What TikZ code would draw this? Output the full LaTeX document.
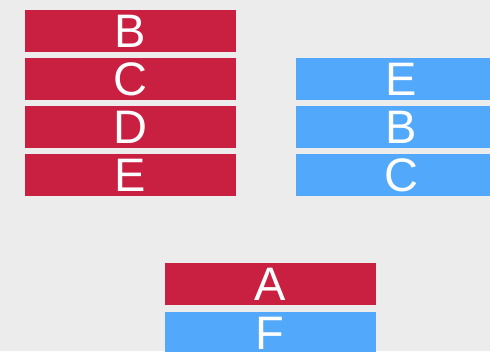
\documentclass[tikz,border=0pt]{standalone}
\usepackage{fontspec}
\setmainfont{Liberation Sans}
\usepackage{xcolor}
\usepackage{tikz}
\usetikzlibrary{positioning}
\definecolor{rojito}{RGB}{201,31,64}
\definecolor{azulito}{RGB}{82,168,250}
\definecolor{fondo}{RGB}{235,236,235}
\tikzset{
  tile/.style={minimum width=211pt, minimum height=41.7pt, inner sep=0pt, outer sep=0pt,
    text=white, font=\fontsize{47}{47}\selectfont},
  redtile/.style={tile, fill=rojito},
  bluetile/.style={tile, fill=azulito}
}

\begin{document}
\begin{tikzpicture}[x=1pt, y=-1pt, node distance=6.3pt]
        \fill[fondo] (0,0) rectangle (490,351);
        \useasboundingbox (0,0) rectangle (490,351);
        \clip (0,0) rectangle (490,351);
        % left stack
        \node[redtile] (lb) at (130,31.3) {B};
        \node[redtile, below=of lb] (lc) {C};
        \node[redtile, below=of lc] (ld) {D};
        \node[redtile, below=of ld] (le) {E};
        % right stack
        \node[bluetile, right=60pt of lc] (re) {E};
        \node[bluetile, below=of re] (rb) {B};
        \node[bluetile, below=of rb] (rc) {C};
        % bottom pair
        \node[redtile] (a) at (270,284) {A};
        \node[bluetile, below=7.3pt of a] (f) {F};
      \end{tikzpicture}
\end{document}
